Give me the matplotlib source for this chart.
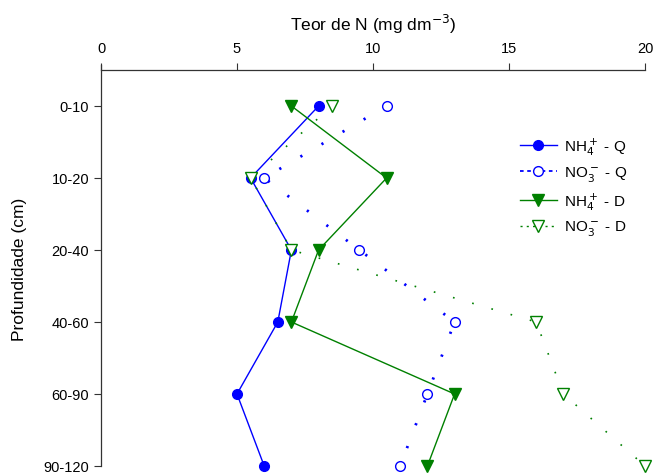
import matplotlib
matplotlib.use("Agg")
import matplotlib.pyplot as plt

plt.rcParams["font.family"] = ["Liberation Sans", "DejaVu Sans"]

# depth layers (cm)
depths = ["0-10", "10-20", "20-40", "40-60", "60-90", "90-120"]

# N content (mg dm-3)
nh4_q = [8.0, 5.5, 7.0, 6.5, 5.0, 6.0]
no3_q = [10.5, 6.0, 9.5, 13.0, 12.0, 11.0]
nh4_d = [7.0, 10.5, 8.0, 7.0, 13.0, 12.0]
no3_d = [8.5, 5.5, 7.0, 16.0, 17.0, 20.0]

x_ticks = [0, 5, 10, 15, 20]

blue = "#0000ff"
green = "#008000"

fig = plt.figure(figsize=(6.54, 4.77), dpi=100)
ax = fig.add_axes([101 / 654, 1 - 467 / 477, 544 / 654, 396 / 477])

pos = list(range(len(depths)))

ax.plot(nh4_q, pos, color=blue, lw=1.0, marker="o", ms=7,
        mfc=blue, mec=blue, label="NH$_4^+$ - Q", clip_on=False, zorder=3)
ax.plot(no3_q, pos, color=blue, lw=2.0, ls=(0, (0.8, 8)), marker="o", ms=7,
        mfc="white", mec=blue, mew=1.0, label="NO$_3^-$ - Q", clip_on=False, zorder=3)
ax.plot(nh4_d, pos, color=green, lw=1.0, marker="v", ms=8,
        mfc=green, mec=green, label="NH$_4^+$ - D", clip_on=False, zorder=3)
ax.plot(no3_d, pos, color=green, lw=1.2, ls=(0, (1, 11)), marker="v", ms=8,
        mfc="white", mec=green, mew=1.0, label="NO$_3^-$ - D", clip_on=False, zorder=3)

ax.set_xlim(0, 20)
ax.set_ylim(5, -0.5)
ax.set_xticks(x_ticks)
ax.set_yticks(pos)
ax.set_yticklabels(depths)

ax.xaxis.set_ticks_position("top")
ax.xaxis.set_label_position("top")
ax.tick_params(axis="both", direction="out", length=5, width=0.8,
               labelsize=10.5, color="#333333")
ax.tick_params(axis="x", pad=6)

for side in ["right", "bottom"]:
    ax.spines[side].set_visible(False)
ax.spines["left"].set_bounds(5, -0.57)
for side in ["left", "top"]:
    ax.spines[side].set_linewidth(0.9)
    ax.spines[side].set_color("#333333")

ax.set_xlabel("Teor de N (mg dm$^{-3}$)", fontsize=12.5, labelpad=8)
ax.set_ylabel("Profundidade (cm)", fontsize=12.5, labelpad=12)

leg = ax.legend(loc="upper left", bbox_to_anchor=(0.745, 0.87), frameon=False,
                fontsize=11, handlelength=2.4, labelspacing=0.45, handletextpad=0.5)
# legend samples show a denser dash pattern than the plotted dotted lines
leg.get_lines()[1].set_linestyle((0, (2, 2)))
leg.get_lines()[1].set_linewidth(1.3)
leg.get_lines()[3].set_linestyle((0, (1.5, 3)))
leg.get_lines()[3].set_linewidth(1.0)

fig.savefig("out.png", dpi=100)
